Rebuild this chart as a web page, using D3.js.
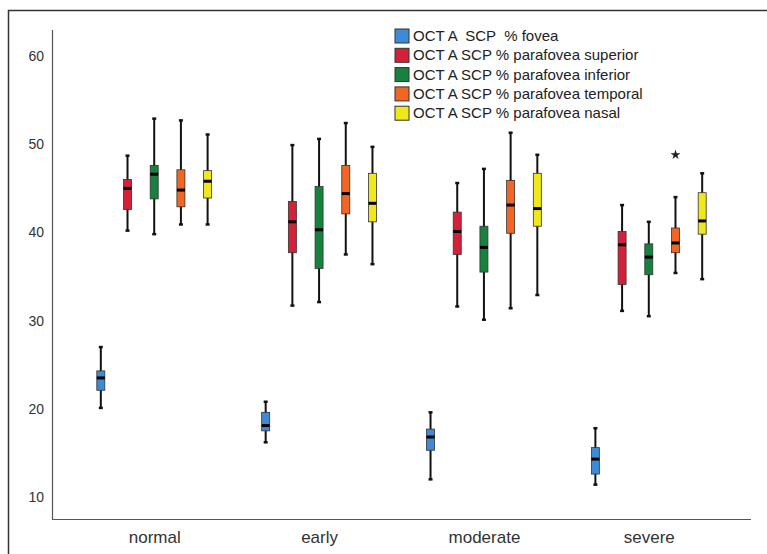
<!DOCTYPE html>
<html>
<head>
<meta charset="utf-8">
<script src="https://d3js.org/d3.v7.min.js"></script>
<style>
  body { margin: 0; background: #fff; }
  text { font-family: "Liberation Sans", Arial, sans-serif; }
</style>
</head>
<body>
<div id="chart"></div>
<script>
const W = 767, H = 554;

// data
const groups = ["normal", "early", "moderate", "severe"];
const series = [
  "OCT A  SCP  % fovea",
  "OCT A SCP % parafovea superior",
  "OCT A SCP % parafovea inferior",
  "OCT A SCP % parafovea temporal",
  "OCT A SCP % parafovea nasal"
];
const colors = ["#3d8bd6", "#d5203a", "#17813e", "#f26522", "#f1e81c"];
const yTicks = [10, 20, 30, 40, 50, 60];

// [low whisker, Q1, median, Q3, high whisker] per group
const fovea    = [[20.1, 22.1, 23.5, 24.3, 27.0], [16.2, 17.5, 18.1, 19.6, 20.8], [12.0, 15.3, 16.8, 17.7, 19.6], [11.4, 12.6, 14.3, 15.6, 17.8]];
const superior = [[40.2, 42.6, 45.0, 46.0, 48.7], [31.7, 37.7, 41.2, 43.5, 49.9], [31.6, 37.5, 40.1, 42.3, 45.6], [31.1, 34.1, 38.6, 40.1, 43.1]];
const inferior = [[39.8, 43.8, 46.6, 47.6, 52.9], [32.1, 35.9, 40.3, 45.2, 50.6], [30.1, 35.5, 38.3, 40.7, 47.2], [30.5, 35.2, 37.2, 38.7, 41.2]];
const temporal = [[40.9, 42.9, 44.8, 47.1, 52.7], [37.5, 42.1, 44.4, 47.6, 52.4], [31.4, 39.9, 43.1, 45.9, 51.3], [35.4, 37.7, 38.8, 40.5, 44.0]];
const nasal    = [[40.9, 43.9, 45.8, 47.0, 51.1], [36.4, 41.2, 43.3, 46.7, 49.7], [32.9, 40.7, 42.7, 46.7, 48.8], [34.7, 39.8, 41.3, 44.5, 46.7]];
const outliers = [{group: "severe", s: 3, v: 48.8}];

const allSeries = [fovea, superior, inferior, temporal, nasal];

const svg = d3.select("#chart").append("svg")
  .attr("width", W).attr("height", H);

// outer frame
svg.append("rect")
  .attr("x", 8.5).attr("y", 10.5)
  .attr("width", W + 10).attr("height", H + 10)
  .attr("fill", "none").attr("stroke", "#333").attr("stroke-width", 1.5);

const x = d3.scalePoint().domain(groups).range([52, 751]).padding(0.62);
const xs = d3.scalePoint().domain(d3.range(series.length)).range([-53.4, 53.4]);
const y = d3.scaleLinear().domain([10, 60]).range([497, 56]);

// axes
const yAxis = svg.append("g").attr("transform", "translate(52,0)")
  .call(d3.axisLeft(y).tickValues(yTicks).tickSize(0).tickPadding(8));
yAxis.select(".domain").remove();
yAxis.selectAll("text").attr("font-size", 14).attr("fill", "#333")
  .attr("font-family", "Liberation Sans, Arial, sans-serif");

const xAxis = svg.append("g").attr("transform", "translate(0,519)")
  .call(d3.axisBottom(x).tickSize(0).tickPadding(12));
xAxis.select(".domain").remove();
xAxis.selectAll("text").attr("font-size", 17).attr("fill", "#333")
  .attr("font-family", "Liberation Sans, Arial, sans-serif");

svg.append("line").attr("x1", 52.5).attr("x2", 52.5).attr("y1", 30).attr("y2", 519.5)
  .attr("stroke", "#555").attr("stroke-width", 1.2);
svg.append("line").attr("x1", 52).attr("x2", 751).attr("y1", 519.5).attr("y2", 519.5)
  .attr("stroke", "#555").attr("stroke-width", 1.2);

// boxes
const bw = 8;
allSeries.forEach(function(arr, s) {
  const g = svg.append("g");
  arr.forEach(function(d, i) {
    const cx = x(groups[i]) + xs(s);
    g.append("line").attr("x1", cx).attr("x2", cx)
      .attr("y1", y(d[0])).attr("y2", y(d[4]))
      .attr("stroke", "#111").attr("stroke-width", 2);
    [d[0], d[4]].forEach(function(v) {
      g.append("line").attr("x1", cx - 2).attr("x2", cx + 2)
        .attr("y1", y(v)).attr("y2", y(v))
        .attr("stroke", "#111").attr("stroke-width", 2.5);
    });
    g.append("rect").attr("x", cx - bw / 2).attr("width", bw)
      .attr("y", y(d[3])).attr("height", y(d[1]) - y(d[3]))
      .attr("fill", colors[s]).attr("stroke", "#333").attr("stroke-width", 0.8);
    g.append("line").attr("x1", cx - bw / 2).attr("x2", cx + bw / 2)
      .attr("y1", y(d[2])).attr("y2", y(d[2]))
      .attr("stroke", "#000").attr("stroke-width", 3);
  });
});

// extreme value marker
outliers.forEach(function(o) {
  svg.append("path")
    .attr("d", d3.symbol(d3.symbolStar).size(30)())
    .attr("transform", "translate(" + (x(o.group) + xs(o.s)) + "," + y(o.v) + ")")
    .attr("fill", "#222");
});

// legend
const leg = svg.append("g").attr("transform", "translate(395,29)");
series.forEach(function(name, i) {
  const row = leg.append("g").attr("transform", "translate(0," + (i * 19.3) + ")");
  row.append("rect").attr("width", 14).attr("height", 14)
    .attr("fill", colors[i]).attr("stroke", "#333").attr("stroke-width", 1);
  row.append("text").attr("x", 18).attr("y", 12)
    .attr("font-size", 15).attr("fill", "#222")
    .style("white-space", "pre").text(name);
});
</script>
</body>
</html>
